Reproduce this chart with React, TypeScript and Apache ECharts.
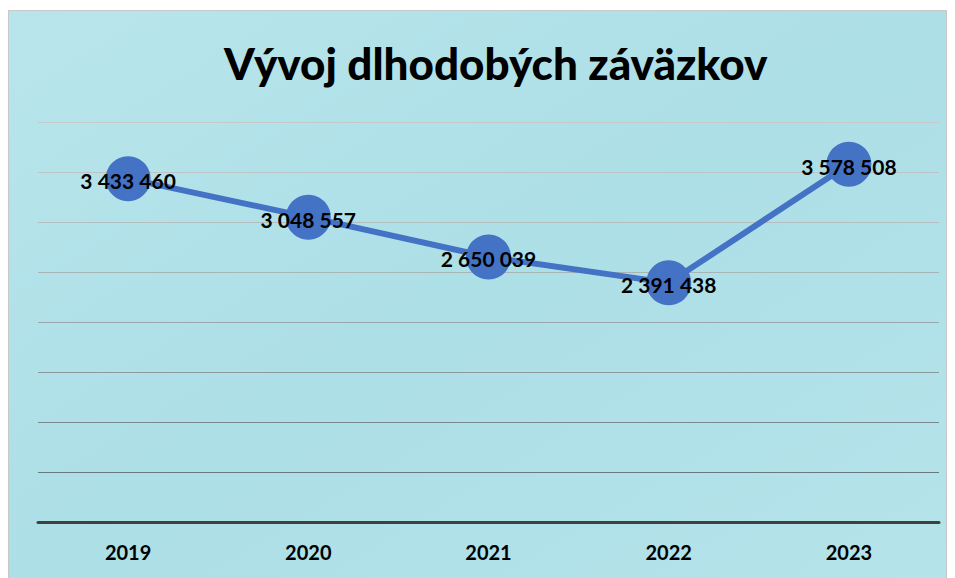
import React, { useEffect, useRef } from "react";
import * as echarts from "echarts";

const categories = ["2019", "2020", "2021", "2022", "2023"];
const values = [3433460, 3048557, 2650039, 2391438, 3578508];
const titleText = "Vývoj dlhodobých záväzkov";

const fmt = (v: number) => String(v).replace(/\B(?=(\d{3})+(?!\d))/g, " ");

export default function App() {
  const ref = useRef<HTMLDivElement>(null);
  useEffect(() => {
    if (!ref.current) return;
    const chart = echarts.init(ref.current, null, { renderer: "svg" });
    chart.setOption({
      animation: false,
      backgroundColor: {
        type: "linear",
        x: 0, y: 0, x2: 1, y2: 1,
        colorStops: [
          { offset: 0, color: "#b8e5eb" },
          { offset: 0.5, color: "#addfe7" },
          { offset: 1, color: "#b5e3ea" },
        ],
      },
      title: {
        text: titleText,
        left: 210,
        top: 25,
        textStyle: {
          fontFamily: "Lato, 'Open Sans', sans-serif",
          fontWeight: 900,
          fontSize: 44,
          color: "#000",
        },
      },
      grid: { left: 29, right: 7, top: 111, bottom: 57 },
      xAxis: {
        type: "category",
        data: categories,
        boundaryGap: true,
        axisLine: { show: true, lineStyle: { color: "#404040", width: 3 } },
        axisTick: { show: false },
        axisLabel: {
          color: "#000",
          fontWeight: "bold",
          fontSize: 20,
          fontFamily: "Lato, 'Open Sans', sans-serif",
          margin: 20,
        },
      },
      yAxis: {
        type: "value",
        min: 0,
        max: 4000000,
        interval: 500000,
        axisLabel: { show: false },
        axisLine: { show: false },
        axisTick: { show: false },
        splitLine: {
          lineStyle: {
            width: 1,
            color: [
              "#404040",
              "#6a7a7c",
              "#7a8a8c",
              "#8a9a9c",
              "#98a8aa",
              "#a8b4b6",
              "#b4bec0",
              "#bcc4c6",
              "#c4cacc",
            ],
          },
        },
      },
      series: [
        {
          type: "line",
          data: values,
          symbol: "circle",
          symbolSize: 45,
          itemStyle: { color: "#4472c4" },
          lineStyle: { color: "#4472c4", width: 6 },
          label: {
            show: true,
            position: "inside",
            formatter: (p: any) => fmt(p.value),
            color: "#000",
            fontWeight: "bold",
            fontSize: 21,
            fontFamily: "Lato, 'Open Sans', sans-serif",
            offset: [0, 2],
          },
        },
      ],
    });
    return () => chart.dispose();
  }, []);
  return (
    <div
      ref={ref}
      style={{
        width: 939,
        height: 570,
        marginTop: 2,
        boxSizing: "border-box",
        border: "1px solid #c8c8c8",
      }}
    />
  );
}
